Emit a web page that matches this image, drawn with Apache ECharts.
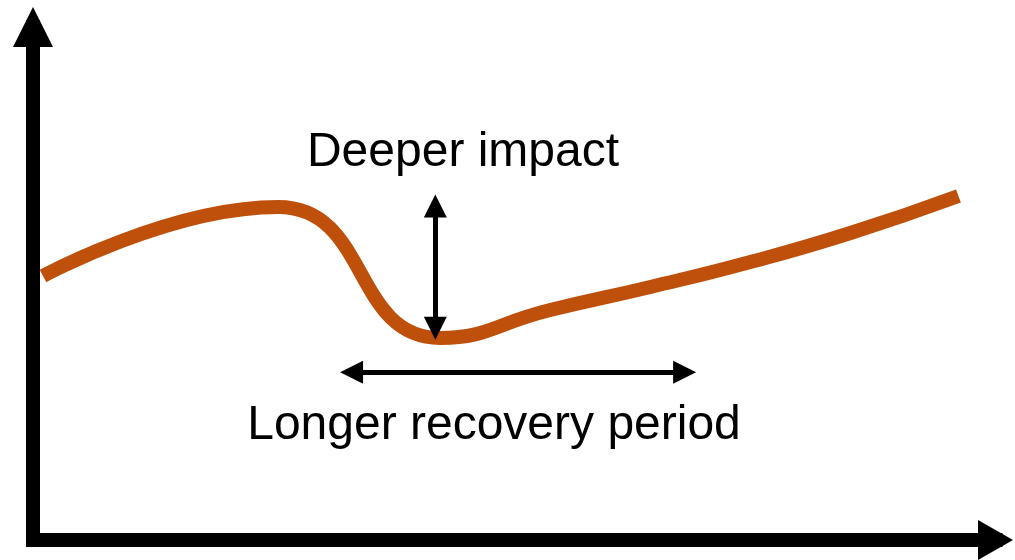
<!DOCTYPE html>
<html>
<head>
<meta charset="utf-8">
<script src="https://cdn.jsdelivr.net/npm/echarts@6/dist/echarts.min.js"></script>
<style>
  html, body { margin: 0; padding: 0; background: #fff; }
  #chart { width: 1015px; height: 560px; }
</style>
</head>
<body>
<div id="chart"></div>
<script>
// curve (x: time, y: level, both 0..100)
var curveX = [1.04, 25.47, 42.31, 53.74, 64.14, 74.53, 84.93, 96.15];
var curveY = [51.46, 64.91, 39.38, 44.83, 49.32, 54.19, 59.84, 67.06];

// double arrows
var impactArrow = [[41.8, 65.1], [41.8, 41.3]];
var recoveryArrow = [[33.1, 32.7], [67.7, 32.7]];

var labels = ['Deeper impact', 'Longer recovery period'];

var curveData = [];
for (var i = 0; i < curveX.length; i++) {
  curveData.push([curveX[i], curveY[i]]);
}

var myChart = echarts.init(document.getElementById('chart'));

var axisLine = function(size) {
  return {
    show: true,
    symbol: ['none', 'triangle'],
    symbolSize: size,
    lineStyle: { color: '#000', width: 14, cap: 'square' }
  };
};

var arrowLine = function(pts) {
  return [
    { coord: pts[0], symbol: 'triangle', symbolSize: 23 },
    { coord: pts[1], symbol: 'triangle', symbolSize: 23 }
  ];
};

var textStyle = function(txt) {
  return {
    text: txt, fill: '#000',
    font: '48px "Liberation Sans", Arial, sans-serif',
    textAlign: 'center', textVerticalAlign: 'middle'
  };
};

var option = {
  backgroundColor: '#fff',
  animation: false,
  grid: { left: 33, right: 19.5, top: 27, bottom: 20 },
  xAxis: {
    type: 'value', min: 0, max: 100,
    axisLine: axisLine([40, 35]),
    axisTick: { show: false }, axisLabel: { show: false }, splitLine: { show: false }
  },
  yAxis: {
    type: 'value', min: 0, max: 100,
    axisLine: axisLine([40, 40]),
    axisTick: { show: false }, axisLabel: { show: false }, splitLine: { show: false }
  },
  series: [{
    type: 'line',
    data: curveData,
    smooth: 0.5,
    showSymbol: false,
    lineStyle: { color: '#bf500b', width: 14, cap: 'butt', join: 'round' },
    markLine: {
      silent: true,
      symbol: ['triangle', 'triangle'],
      symbolSize: 23,
      label: { show: false },
      lineStyle: { color: '#000', width: 5, type: 'solid' },
      data: [arrowLine(impactArrow), arrowLine(recoveryArrow)]
    }
  }],
  graphic: [
    { type: 'text', x: 463, y: 153, style: textStyle(labels[0]) },
    { type: 'text', x: 494, y: 426, style: textStyle(labels[1]) }
  ]
};
myChart.setOption(option);
</script>
</body>
</html>
